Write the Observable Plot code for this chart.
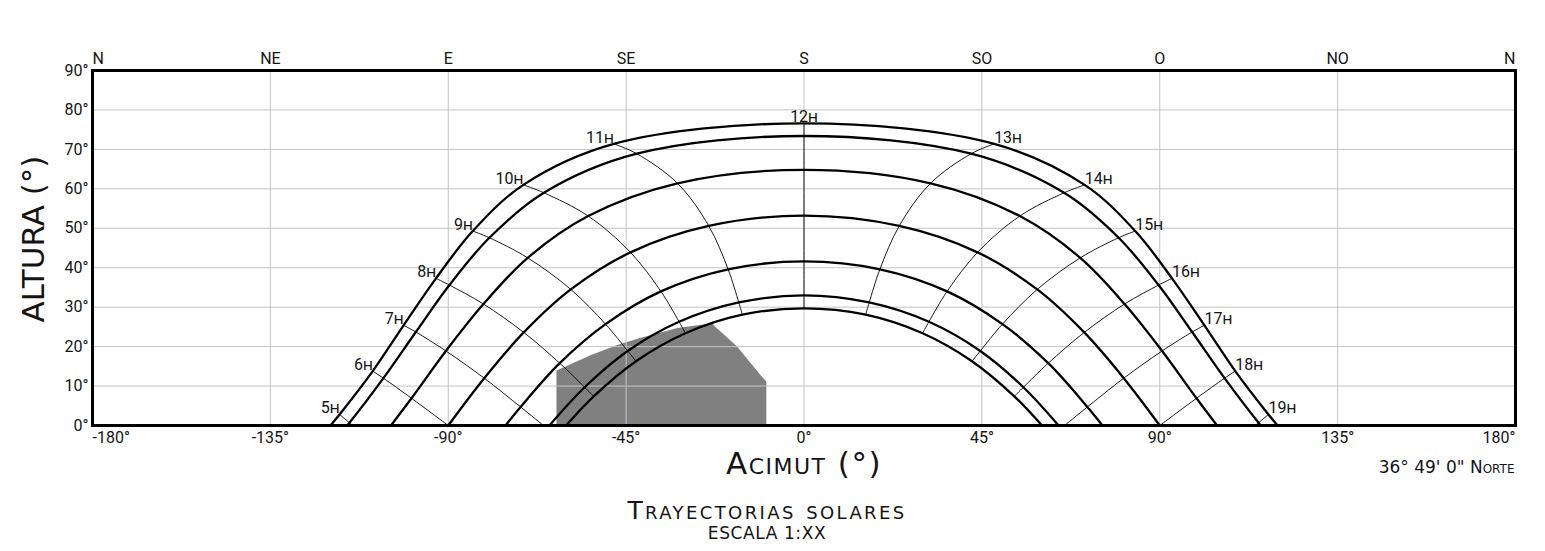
<!DOCTYPE html>
<html>
<head>
<meta charset="utf-8">
<script src="https://cdn.jsdelivr.net/npm/d3@7"></script>
<script src="https://cdn.jsdelivr.net/npm/@observablehq/plot@0.6"></script>
<style>
  html, body { margin: 0; padding: 0; background: #ffffff; }
</style>
</head>
<body>
<div id="chart"></div>
<script>
// ---- Sun-path curves (azimuth ° from south, altitude °) ----
const c1Hour = [null,5,6,7,8,9,10,11,12,13,14,15,16,17,18,19,null];
const c1Az   = [-119.8,-117.5,-109.1,-101.3,-93.1,-83.8,-71.0,-48.1,0,48.1,71.0,83.8,93.1,101.3,109.1,117.5,119.8];
const c1Alt  = [0,2.8,13.8,25.4,37.3,49.3,61.0,71.4,76.6,71.4,61.0,49.3,37.3,25.4,13.8,2.8,0];

const c2Hour = [null,5,6,7,8,9,10,11,12,13,14,15,16,17,18,19,null];
const c2Az   = [-115.6,-115.0,-106.4,-98.2,-89.7,-79.6,-65.8,-42.3,0,42.3,65.8,79.6,89.7,98.2,106.4,115.0,115.6];
const c2Alt  = [0,0.7,12.0,23.7,35.6,47.6,59.0,68.9,73.4,68.9,59.0,47.6,35.6,23.7,12.0,0.7,0];

const c3Hour = [null,6,7,8,9,10,11,12,13,14,15,16,17,18,null];
const c3Az   = [-104.5,-99.3,-90.6,-81.1,-69.9,-54.6,-32.0,0,32.0,54.6,69.9,81.1,90.6,99.3,104.5];
const c3Alt  = [0,6.9,18.9,30.8,42.5,53.1,61.4,64.8,61.4,53.1,42.5,30.8,18.9,6.9,0];

const c4Hour = [6,7,8,9,10,11,12,13,14,15,16,17,18];
const c4Az   = [-90,-80.9,-70.9,-59.0,-43.9,-24.1,0,24.1,43.9,59.0,70.9,80.9,90];
const c4Alt  = [0,12.0,23.6,34.5,43.9,50.6,53.2,50.6,43.9,34.5,23.6,12.0,0];

const c5Hour = [null,7,8,9,10,11,12,13,14,15,16,17,null];
const c5Az   = [-75.5,-71.7,-61.8,-50.2,-36.2,-19.2,0,19.2,36.2,50.2,61.8,71.7,75.5];
const c5Alt  = [0,4.7,15.8,25.7,34.0,39.6,41.6,39.6,34.0,25.7,15.8,4.7,0];

const c6Hour = [null,8,9,10,11,12,13,14,15,16,null];
const c6Az   = [-64.4,-55.5,-44.6,-31.6,-16.5,0,16.5,31.6,44.6,55.5,64.4];
const c6Alt  = [0,9.7,18.9,26.3,31.2,33.0,31.2,26.3,18.9,9.7,0];

const c7Hour = [null,8,9,10,11,12,13,14,15,16,null];
const c7Az   = [-60.2,-53.2,-42.5,-30.0,-15.6,0,15.6,30.0,42.5,53.2,60.2];
const c7Alt  = [0,7.4,16.3,23.4,28.1,29.7,28.1,23.4,16.3,7.4,0];

// hour lines that reach the horizon between two curves
const horizonHour = [5, 7, 17, 19];
const horizonAz   = [-114.1, -65.9, 65.9, 114.1];

// obstacle (grey shading) top edge
const obstacleAz  = [-62.5,-60.2,-53.9,-47.1,-41.2,-31.9,-23.1,-22.3,-16.8,-10.9,-9.4];
const obstacleAlt = [13.8,14.8,17.7,20.3,22.1,24.6,25.8,24.9,19.9,12.7,11.0];

// axes
const azTicks  = [-180,-135,-90,-45,0,45,90,135,180];
const dirLabels = ["N","NE","E","SE","S","SO","O","NO","N"];
const altTicks = [0,10,20,30,40,50,60,70,80,90];
const gridAz   = [-135,-90,-45,0,45,90,135];
const gridAlt  = [10,20,30,40,50,60,70,80];

// ---- build tables ----
const curveDefs = [
  [c1Hour,c1Az,c1Alt],[c2Hour,c2Az,c2Alt],[c3Hour,c3Az,c3Alt],[c4Hour,c4Az,c4Alt],
  [c5Hour,c5Az,c5Alt],[c6Hour,c6Az,c6Alt],[c7Hour,c7Az,c7Alt]
];
const pathRows = [];
curveDefs.forEach(([hs, az, alt], ci) => {
  hs.forEach((h, j) => pathRows.push({curve: ci, hour: h, az: az[j], alt: alt[j]}));
});
const hourRows = [];
for (let h = 5; h <= 19; h++) {
  pathRows.filter(d => d.hour === h).forEach(d => hourRows.push({hour: h, az: d.az, alt: d.alt}));
  horizonHour.forEach((hh, k) => { if (hh === h) hourRows.push({hour: h, az: horizonAz[k], alt: 0}); });
}
const labelRows = pathRows.filter(d => d.curve === 0 && d.hour !== null)
  .map(d => ({hour: d.hour, az: d.az, alt: d.alt, text: d.hour + "h"}));
const obstacle = obstacleAz.map((a, i) => ({az: a, alt: obstacleAlt[i]}));

const txt = "#141414";
const labelFont = "'DejaVu Sans', sans-serif";

const chart = Plot.plot({
  width: 1545,
  height: 551,
  marginLeft: 92,
  marginRight: 30,
  marginTop: 70,
  marginBottom: 126,
  x: {domain: [-180, 180]},
  y: {domain: [0, 90]},
  style: {fontFamily: "Roboto, 'DejaVu Sans', sans-serif", fontSize: "16px", color: txt, background: "#ffffff"},
  marks: [
    Plot.areaY(obstacle, {x: "az", y: "alt", fill: "#808080"}),
    Plot.gridX(gridAz, {stroke: "#c3c3c3", strokeOpacity: 1, strokeWidth: 1}),
    Plot.gridY(gridAlt, {stroke: "#c3c3c3", strokeOpacity: 1, strokeWidth: 1}),
    Plot.line(hourRows, {x: "az", y: "alt", z: "hour", stroke: "#000", strokeWidth: 0.9, curve: "catmull-rom"}),
    Plot.line(pathRows, {x: "az", y: "alt", z: "curve", stroke: "#000", strokeWidth: 2.3, curve: "catmull-rom"}),
    Plot.frame({stroke: "#000", strokeWidth: 3}),
    // hour labels
    Plot.text(labelRows.filter(d => d.az < 0), {x: "az", y: "alt", text: "text", textAnchor: "end", lineAnchor: "bottom", dy: -1, dx: 0, fontVariant: "small-caps", fontSize: 16, fill: txt}),
    Plot.text(labelRows.filter(d => d.az === 0), {x: "az", y: "alt", text: "text", textAnchor: "middle", lineAnchor: "bottom", dy: -1, fontVariant: "small-caps", fontSize: 16, fill: txt}),
    Plot.text(labelRows.filter(d => d.az > 0), {x: "az", y: "alt", text: "text", textAnchor: "start", lineAnchor: "bottom", dy: -1, dx: 0, fontVariant: "small-caps", fontSize: 16, fill: txt}),
    // axes
    Plot.axisX({anchor: "bottom", ticks: azTicks.slice(1, -1), tickFormat: d => `${d}°`, tickSize: 0, tickPadding: 6, label: null}),
    Plot.text([azTicks[0]], {x: d => d, frameAnchor: "bottom", textAnchor: "start", lineAnchor: "top", dy: 6, text: d => `${d}°`, fill: txt}),
    Plot.text([azTicks[8]], {x: d => d, frameAnchor: "bottom", textAnchor: "end", lineAnchor: "top", dy: 6, text: d => `${d}°`, fill: txt}),
    Plot.axisX({anchor: "top", ticks: azTicks.slice(1, -1), tickFormat: d => dirLabels[azTicks.indexOf(d)], tickSize: 0, tickPadding: 7, label: null}),
    Plot.text([azTicks[0]], {x: d => d, frameAnchor: "top", textAnchor: "start", lineAnchor: "bottom", dy: -7, text: d => dirLabels[0], fill: txt}),
    Plot.text([azTicks[8]], {x: d => d, frameAnchor: "top", textAnchor: "end", lineAnchor: "bottom", dy: -7, text: d => dirLabels[8], fill: txt}),
    Plot.axisY({anchor: "left", ticks: altTicks, tickFormat: d => `${d}°`, tickSize: 0, tickPadding: 4, label: null}),
    // titles
    Plot.text(["ALTURA (°)"], {frameAnchor: "left", text: d => d, rotate: -90, dx: -58, dy: -9, fontSize: 31, fontFamily: labelFont, fill: txt, lineAnchor: "middle", textAnchor: "middle"}),
    Plot.text(["Acimut (°)"], {frameAnchor: "bottom", text: d => d, dy: 39, fontSize: 31, fontFamily: labelFont, fontVariant: "small-caps", fill: txt, lineAnchor: "middle"}),
    Plot.text(["36° 49' 0\" Norte"], {frameAnchor: "bottom-right", text: d => d, dy: 42, dx: -1, textAnchor: "end", fontSize: 17, fontFamily: labelFont, fontVariant: "small-caps", fill: txt, lineAnchor: "middle"}),
    Plot.text(["Trayectorias solares"], {frameAnchor: "bottom", text: d => d, dx: -37, dy: 85, fontSize: 25, fontFamily: labelFont, fontVariant: "small-caps", fill: txt, lineAnchor: "middle"}),
    Plot.text(["ESCALA 1:XX"], {frameAnchor: "bottom", text: d => d, dx: -37, dy: 108, fontSize: 17, fontFamily: labelFont, fill: txt, lineAnchor: "middle"})
  ]
});
d3.select(chart).selectAll("text").each(function () {
  const t = this.textContent;
  if (t === "Trayectorias solares") d3.select(this).attr("letter-spacing", "2.4px");
  if (t === "Acimut (°)") d3.select(this).attr("letter-spacing", "1.5px");
  if (t === "ESCALA 1:XX") d3.select(this).attr("letter-spacing", "0.6px");
});
document.getElementById("chart").appendChild(chart);
</script>
</body>
</html>
